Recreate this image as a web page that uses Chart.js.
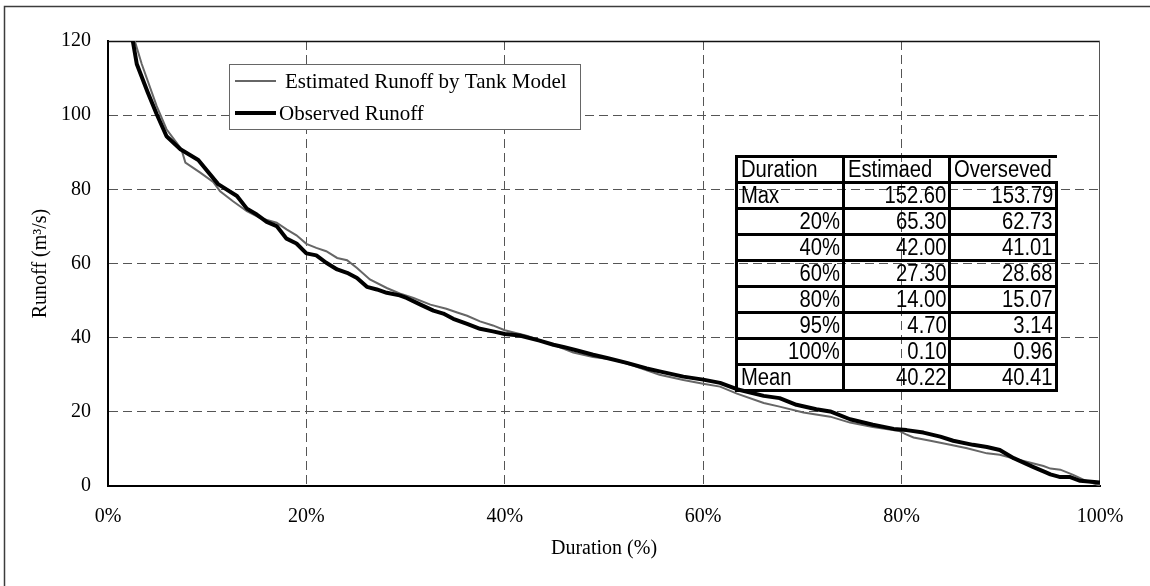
<!DOCTYPE html>
<html>
<head>
<meta charset="utf-8">
<title>Flow duration curve</title>
<script src="https://cdn.jsdelivr.net/npm/chart.js@4.4.0/dist/chart.umd.min.js"></script>
<style>
  html, body { margin: 0; padding: 0; background: #fff; }
  #wrap { position: relative; width: 1150px; height: 586px; overflow: hidden; }
  #chart { position: absolute; left: 0; top: 0; }
  #stats {
    position: absolute; left: 735px; top: 155px;
    border-collapse: collapse; table-layout: fixed; width: 323px;
    font-family: 'Liberation Sans', Arial, sans-serif;
    font-size: 23px; color: #000;
  }
  #stats th, #stats td {
    border: 3px solid #000;
    height: 23px; line-height: 23px;
    padding: 0 2px 0 3px; font-weight: normal; white-space: nowrap;
    text-align: right; overflow: visible; vertical-align: top;
  }
  #stats span {
    display: inline-block; line-height: 23px; height: 23px; vertical-align: top;
    transform: scaleX(0.88); transform-origin: right center;
  }
  #stats th { text-align: left; }
  #stats th span, #stats td.name span { transform-origin: left center; }
  #stats th:last-child { border-right: none; }
  #stats td.name { text-align: left; }
</style>
</head>
<body>
<div id="wrap">
  <canvas id="chart" width="1150" height="586"></canvas>
  <table id="stats"></table>
</div>
<script>
// Flow duration curves: exceedance duration (%) vs runoff (m3/s)
const estDuration = [0, 2.7, 3.4, 4.9, 5.9, 7.4, 7.8, 9.3, 10.6, 11.3, 12.6, 14.0, 15.3, 17.0, 18.0,
  19.0, 20.0, 21.0, 22.0, 23.1, 24.1, 25.1, 26.4, 28.1, 29.4, 30.8, 32.5, 34.1, 35.2, 36.2,
  37.5, 38.8, 40.0, 42.2, 44.6, 46.9, 48.9, 50.9, 53.0, 55.6, 58.0, 60.0, 61.7, 63.4, 66.1,
  67.7, 70.1, 72.8, 74.8, 77.1, 79.8, 80.4, 81.2, 82.9, 84.9, 86.6, 88.6, 89.9, 91.6, 94.3,
  95.0, 96.0, 97.3, 98.6, 100];
const estRunoff = [152.6, 120, 113.8, 102.5, 96.2, 90.8, 87.2, 84.5, 82.0, 79.5, 76.8, 74.1, 72.3, 71.0, 69.2,
  67.6, 65.3, 64.2, 63.3, 61.5, 60.9, 58.8, 55.7, 53.4, 51.9, 50.7, 48.9, 47.8, 46.8, 45.9,
  44.4, 43.3, 42.0, 40.5, 38.4, 36.0, 34.8, 34.1, 32.4, 30.0, 28.6, 27.6, 26.8, 24.9, 22.4,
  21.4, 19.8, 18.7, 17.1, 15.9, 14.8, 14.0, 13.1, 12.2, 11.1, 10.2, 8.8, 8.4, 7.2, 5.4,
  4.7, 4.4, 3.0, 1.4, 0.1];

const obsDuration = [0, 2.5, 2.9, 4.0, 4.9, 5.9, 7.3, 9.1, 11.1, 13.0, 14.0, 15.0, 16.0, 17.0, 18.0,
  19.0, 20.0, 21.0, 22.0, 23.1, 24.1, 25.1, 26.1, 27.1, 28.1, 29.4, 30.1, 31.5, 32.8, 33.8,
  34.8, 36.2, 37.5, 38.8, 40.0, 41.5, 43.5, 44.9, 45.9, 47.2, 48.9, 50.3, 52.3, 54.3, 55.6,
  58.0, 60.0, 61.7, 63.4, 66.1, 67.7, 69.4, 71.4, 72.8, 74.8, 77.1, 79.2, 80.5, 82.2, 83.9,
  85.2, 87.2, 88.6, 89.9, 91.3, 93.3, 94.6, 95.0, 96.0, 97.0, 98.0, 100];
const obsRunoff = [153.79, 120, 113.8, 106.2, 100.3, 94.3, 90.8, 87.9, 81.4, 78.2, 74.8, 73.2, 71.2, 70.1, 66.7,
  65.4, 62.73, 62.2, 60.2, 58.4, 57.5, 56.1, 53.7, 53.0, 52.1, 51.4, 50.7, 48.9, 47.3, 46.5,
  45.1, 43.7, 42.4, 41.7, 41.01, 40.6, 39.2, 38.1, 37.5, 36.6, 35.4, 34.5, 33.2, 31.7, 30.9,
  29.5, 28.68, 27.8, 26.1, 24.3, 23.7, 21.9, 20.7, 20.1, 18.0, 16.5, 15.4, 15.07, 14.4, 13.3,
  12.2, 11.1, 10.5, 9.7, 7.5, 5.1, 3.6, 3.14, 2.4, 2.4, 1.4, 0.96];

const xTicks = [0, 20, 40, 60, 80, 100];
const yTicks = [0, 20, 40, 60, 80, 100, 120];

// summary table
const statHeader = ['Duration', 'Estimaed', 'Overseved'];
const statNames = ['Max', '20%', '40%', '60%', '80%', '95%', '100%', 'Mean'];
const statEstimated = [152.60, 65.30, 42.00, 27.30, 14.00, 4.70, 0.10, 40.22];
const statObserved = [153.79, 62.73, 41.01, 28.68, 15.07, 3.14, 0.96, 40.41];

(function buildTable() {
  const t = document.getElementById('stats');
  const cell = (tag, text, cls) => {
    const el = document.createElement(tag);
    const sp = document.createElement('span');
    sp.textContent = text;
    el.appendChild(sp);
    if (cls) el.className = cls;
    return el;
  };
  const hr = document.createElement('tr');
  statHeader.forEach(h => hr.appendChild(cell('th', h)));
  t.appendChild(hr);
  statNames.forEach((n, i) => {
    const tr = document.createElement('tr');
    tr.appendChild(cell('td', n, n.endsWith('%') ? '' : 'name'));
    tr.appendChild(cell('td', statEstimated[i].toFixed(2)));
    tr.appendChild(cell('td', statObserved[i].toFixed(2)));
    t.appendChild(tr);
  });
})();

const pairs = (xs, ys) => xs.map((x, i) => ({ x: x, y: ys[i] }));
const SERIF = "'Liberation Serif', 'Times New Roman', serif";

// outer frame and plot-area top/right edges
const framePlugin = {
  id: 'frame',
  beforeDraw(chart) {
    const c = chart.ctx;
    c.save();
    c.fillStyle = '#fff';
    c.fillRect(0, 0, chart.width, chart.height);
    c.strokeStyle = '#3c3c3c';
    c.lineWidth = 1.5;
    c.beginPath();
    c.moveTo(4.5, chart.height);
    c.lineTo(4.5, 6.5);
    c.lineTo(chart.width, 6.5);
    c.stroke();
    c.restore();
  },
  beforeDatasetsDraw(chart) {
    const { left, right, top, bottom } = chart.chartArea;
    const c = chart.ctx;
    c.save();
    c.lineWidth = 1.5;
    c.strokeStyle = '#111';
    c.beginPath(); c.moveTo(left, top + 0.5); c.lineTo(right, top + 0.5); c.stroke();
    c.lineWidth = 1;
    c.strokeStyle = '#555';
    c.beginPath(); c.moveTo(right - 0.5, top); c.lineTo(right - 0.5, bottom); c.stroke();
    c.restore();
  }
};

// boxed legend inside the plot area
const boxLegend = {
  id: 'boxLegend',
  afterDatasetsDraw(chart) {
    const c = chart.ctx;
    const x0 = 229, y0 = 64, w = 351, h = 65;
    c.save();
    c.fillStyle = '#fff';
    c.fillRect(x0, y0, w, h);
    c.strokeStyle = '#666';
    c.lineWidth = 1;
    c.strokeRect(x0 + 0.5, y0 + 0.5, w, h);
    c.font = '21px ' + SERIF;
    c.textBaseline = 'middle';
    c.fillStyle = '#000';
    const rows = [{ y: 81, tx: 285 }, { y: 113, tx: 279 }];
    chart.data.datasets.forEach((ds, i) => {
      const r = rows[i];
      c.strokeStyle = ds.borderColor;
      c.lineWidth = ds.borderWidth;
      c.beginPath(); c.moveTo(235, r.y); c.lineTo(276, r.y); c.stroke();
      c.fillText(ds.label, r.tx, r.y + 1);
    });
    c.restore();
  }
};

const gridColor = (edges) => (ctx) => (ctx.tick && edges.includes(ctx.tick.value)) ? 'rgba(0,0,0,0)' : '#555';

new Chart(document.getElementById('chart'), {
  type: 'line',
  data: {
    datasets: [
      {
        label: 'Estimated Runoff by Tank Model',
        data: pairs(estDuration, estRunoff),
        borderColor: '#666',
        borderWidth: 2,
        pointRadius: 0,
        tension: 0,
        order: 2
      },
      {
        label: 'Observed Runoff',
        data: pairs(obsDuration, obsRunoff),
        borderColor: '#000',
        borderWidth: 4,
        borderJoinStyle: 'round',
        pointRadius: 0,
        tension: 0,
        order: 1
      }
    ]
  },
  options: {
    responsive: false,
    animation: false,
    devicePixelRatio: 1,
    layout: { padding: { left: 0, top: 41, right: 50, bottom: 0 } },
    plugins: { legend: { display: false }, tooltip: { enabled: false } },
    scales: {
      x: {
        type: 'linear',
        min: 0, max: 100,
        afterBuildTicks: (s) => { s.ticks = xTicks.map(v => ({ value: v })); },
        afterFit: (s) => { s.height = 100; },
        ticks: {
          color: '#000',
          padding: 19,
          maxRotation: 0,
          font: { family: SERIF, size: 20 },
          callback: (v) => v + '%'
        },
        grid: { color: gridColor([0, 100]), lineWidth: 1, drawTicks: false },
        border: { display: true, color: '#000', width: 2, dash: [9, 5] },
        title: {
          display: true,
          text: 'Duration (%)',
          color: '#000',
          font: { family: SERIF, size: 20 },
          padding: { top: 0, bottom: 25 }
        }
      },
      y: {
        min: 0, max: 120,
        afterBuildTicks: (s) => { s.ticks = yTicks.map(v => ({ value: v })); },
        afterFit: (s) => { s.width = 108; },
        ticks: {
          color: '#000',
          padding: 17,
          font: { family: SERIF, size: 20 }
        },
        grid: { color: gridColor([0, 120]), lineWidth: 1, drawTicks: false },
        border: { display: true, color: '#000', width: 2, dash: [9, 5] },
        title: {
          display: true,
          text: 'Runoff (m³/s)',
          color: '#000',
          font: { family: SERIF, size: 20 },
          padding: { top: 29, bottom: 0 }
        }
      }
    }
  },
  plugins: [framePlugin, boxLegend]
});
</script>
</body>
</html>
